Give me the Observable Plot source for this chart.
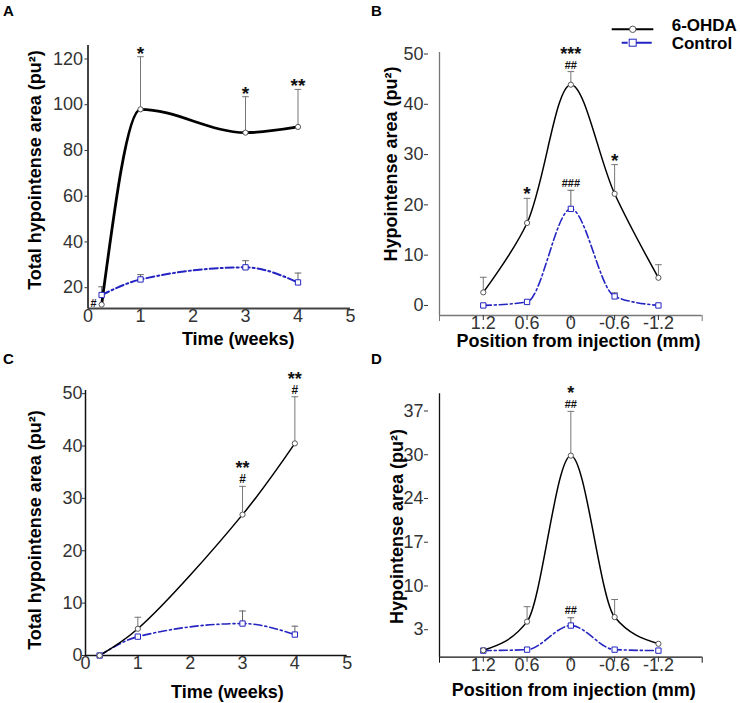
<!DOCTYPE html>
<html>
<head>
<meta charset="utf-8">
<script src="https://cdn.jsdelivr.net/npm/d3@7"></script>
<script src="https://cdn.jsdelivr.net/npm/@observablehq/plot@0.6"></script>
<style>
  body { margin: 0; background: #fff; font-family: "Liberation Sans", Arial, Helvetica, sans-serif; }
  #fig { position: relative; width: 740px; height: 703px; overflow: hidden; background: #fff; }
  .panel { position: absolute; }
  .panel svg { overflow: visible; max-width: none; }
  .letter { position: absolute; font-weight: bold; font-size: 15px; line-height: 1; color: #000; }
</style>
</head>
<body>
<div id="fig"></div>
<script>
// ---------------- DATA ----------------
// Panel A: total hypointense area over time
const weeksA = [0.26, 1, 3, 4];
const ohdaA = [12.6, 98, 87.8, 90.3];
const ohdaSemA = [0, 23, 15.7, 16.4];
const ctrlA = [16.8, 23.6, 28.9, 22.3];
const ctrlSemA = [3.6, 2.1, 2.9, 4.1];
const starsA = ["", "*", "*", "**"];
const hashA = ["#", "", "", ""];
const yTicksA = [20, 40, 60, 80, 100, 120];
const xTicksTime = [0, 1, 2, 3, 4, 5];

// Panel B: hypointense area by position
const posB = [1.2, 0.6, 0, -0.6, -1.2];
const posLabels = ["1.2", "0.6", "0", "-0.6", "-1.2"];
const ohdaB = [2.6, 16.4, 43.9, 22.2, 5.5];
const ohdaSemB = [3.0, 4.9, 2.6, 5.8, 2.6];
const ctrlB = [0, 0.7, 19.2, 1.8, 0];
const ctrlSemB = [0, 0, 3.7, 0.7, 0];
const starsB = ["", "*", "***", "*", ""];
const hashB = ["", "", "##", "", ""];
const ctrlHashB = ["", "", "###", "", ""];
const yTicksB = [0, 10, 20, 30, 40, 50];

// Panel C: total hypointense area over time
const weeksC = [0.27, 1, 3, 4];
const ohdaC = [0, 5.1, 26.9, 40.5];
const ohdaSemC = [0, 2.2, 5.4, 8.9];
const ctrlC = [0, 3.6, 6.1, 4.0];
const ctrlSemC = [0, 0, 2.4, 1.6];
const starsC = ["", "", "**", "**"];
const hashC = ["", "", "#", "#"];
const yTicksC = [0, 10, 20, 30, 40, 50];

// Panel D: hypointense area by position
const ohdaD = [0.2, 4.6, 30.1, 5.3, 1.2];
const ohdaSemD = [0, 2.3, 6.8, 2.7, 0];
const ctrlD = [0.15, 0.3, 4.0, 0.3, 0.15];
const ctrlSemD = [0, 0, 1.2, 0, 0];
const starsD = ["", "", "*", "", ""];
const hashD = ["", "", "##", "", ""];
const ctrlHashD = ["", "", "##", "", ""];
const yTicksD = [3.36, 10.08, 16.8, 23.52, 30.24, 36.96];
const yTickLabelsD = ["3", "10", "17", "24", "30", "37"];

const seriesNames = ["6-OHDA", "Control"];
const panelLetters = ["A", "B", "C", "D"];
const labelTotal = "Total hypointense area (pu²)";
const labelArea = "Hypointense area (pu²)";
const labelTime = "Time (weeks)";
const labelPos = "Position from injection (mm)";

// ---------------- STYLE ----------------
const FONT = '"Liberation Sans", Arial, Helvetica, sans-serif';
const BLUE = "#2424c2";
const DASH = "8,3,2,3";

const capSymbol = {
  draw(ctx, size) {
    const w = Math.sqrt(size);
    ctx.moveTo(-w, 0);
    ctx.lineTo(w, 0);
  }
};

function rows(xs, ys, sems, stars, hashes) {
  return xs.map((x, i) => ({
    x, y: ys[i], sem: sems[i], top: ys[i] + sems[i],
    star: stars ? stars[i] : "", hash: hashes ? hashes[i] : ""
  }));
}

function errorMarks(data, color, width) {
  const withErr = data.filter(d => d.sem > 0);
  return [
    Plot.ruleX(withErr, {x: "x", y1: "y", y2: "top", stroke: color, strokeWidth: width}),
    Plot.dot(withErr, {x: "x", y: "top", symbol: capSymbol, r: 1.9, stroke: color, strokeWidth: width, fill: "none"})
  ];
}

function makePanel(cfg) {
  const o = cfg.ohda, c = cfg.ctrl;
  const marks = [
    // axis lines
    Plot.ruleX([cfg.xDomain[0]], {stroke: cfg.axisColor, strokeWidth: cfg.axisWidth}),
    Plot.ruleY([cfg.yDomain[0]], {stroke: cfg.axisColor, strokeWidth: cfg.axisWidth}),
    // axes
    Plot.axisY({ticks: cfg.yTicks, tickFormat: cfg.yFormat, tickSize: cfg.yTickSize, tickPadding: cfg.yTickPadding,
      dx: cfg.yAxisDx || 0, fontSize: 18, color: "#333", label: null}),
    Plot.axisX({ticks: cfg.xTicks, tickFormat: cfg.xFormat, tickSize: cfg.xTickSize, tickPadding: cfg.xTickPadding,
      fontSize: 18, color: "#333", label: null}),
    ...(cfg.endTicks ? [Plot.axisX({ticks: cfg.xDomain, tickFormat: () => "", tickSize: 6, color: cfg.axisColor, label: null})] : []),
    // error bars
    ...errorMarks(o, "#777", 1),
    ...errorMarks(c, cfg.ctrlErrColor || "#666", 1),
    // lines
    Plot.line(c, {x: "x", y: "y", curve: cfg.ctrlCurve, stroke: BLUE, strokeWidth: cfg.ctrlWidth, strokeDasharray: DASH}),
    Plot.line(o, {x: "x", y: "y", curve: cfg.ohdaCurve, stroke: "#000", strokeWidth: cfg.ohdaWidth}),
    // markers
    Plot.dot(c, {x: "x", y: "y", symbol: "square", r: 3, stroke: BLUE, strokeWidth: 1, fill: "white"}),
    Plot.dot(o, {x: "x", y: "y", r: 2.6, stroke: "#555", strokeWidth: 1, fill: "white"}),
    // significance marks
    Plot.text(o.filter(d => d.star && !d.hash), {x: "x", y: "top", text: "star", lineAnchor: "bottom",
      dy: cfg.starDy, fontSize: 19, fontWeight: "bold", fill: "#111"}),
    Plot.text(o.filter(d => d.star && d.hash), {x: "x", y: "top", text: "star", lineAnchor: "bottom",
      dy: -12, fontSize: 18, fontWeight: "bold", fill: "#111"}),
    Plot.text(o.filter(d => d.hash && d.star), {x: "x", y: "top", text: "hash", lineAnchor: "bottom",
      dy: -3, fontSize: cfg.hashSize, fontWeight: "bold", fill: "#111"}),
    Plot.text(c.filter(d => d.hash), {x: "x", y: "top", text: "hash", lineAnchor: "bottom",
      dy: -3.5, fontSize: 11, fontWeight: "bold", fill: "#111"}),
    // axis titles
    Plot.text([cfg.yLabel], {text: d => d, frameAnchor: "left", rotate: -90, dx: cfg.yLabelDx, dy: cfg.yLabelDy,
      textAnchor: "middle", lineAnchor: "middle", fontSize: 18, fontWeight: "bold", fill: "#000"}),
    Plot.text([cfg.xLabel], {text: d => d, frameAnchor: "bottom", dx: cfg.xLabelDx, dy: cfg.xLabelDy,
      textAnchor: "middle", lineAnchor: "middle", fontSize: 18, fontWeight: "bold", fill: "#000"})
  ];
  if (cfg.sideHash) {
    marks.push(Plot.text(o.filter(d => d.hash && !d.star), {x: "x", y: "y", text: "hash", textAnchor: "end",
      lineAnchor: "middle", dx: -5, dy: -1, fontSize: 11, fontWeight: "bold", fill: "#111"}));
  }
  return Plot.plot({
    width: cfg.width, height: cfg.height,
    marginLeft: cfg.m[0], marginRight: cfg.m[1], marginTop: cfg.m[2], marginBottom: cfg.m[3],
    x: {type: "linear", domain: cfg.xDomain},
    y: {type: "linear", domain: cfg.yDomain},
    style: {fontFamily: FONT, fontSize: "18px", background: "transparent", overflow: "visible"},
    marks
  });
}

const fig = document.getElementById("fig");
function place(node, left, top) {
  const div = document.createElement("div");
  div.className = "panel";
  div.style.left = left + "px";
  div.style.top = top + "px";
  div.appendChild(node);
  fig.appendChild(div);
}

const timeFmt = d => String(d);
const posFmt = d => posLabels[posB.indexOf(d)] ?? "";

// Panel A
place(makePanel({
  width: 370, height: 350, m: [87.5, 20, 45, 42],
  xDomain: [0, 5], yDomain: [10.9, 125.9],
  xTicks: xTicksTime, xFormat: timeFmt, xTickSize: 0, xTickPadding: 1,
  yTicks: yTicksA, yFormat: d => String(d), yTickSize: 3, yTickPadding: 2,
  axisColor: "#444", axisWidth: 2,
  ohda: rows(weeksA, ohdaA, ohdaSemA, starsA, hashA),
  ctrl: rows(weeksA, ctrlA, ctrlSemA),
  ohdaCurve: "monotone-x", ctrlCurve: "monotone-x", ohdaWidth: 2.8, ctrlWidth: 2,
  starDy: 3, hashSize: 11, sideHash: true,
  yLabel: labelTotal, yLabelDx: -52.5, yLabelDy: -7,
  xLabel: labelTime, xLabelDx: 19, xLabelDy: 31
}), 0, 0);

// Panel B
place(makePanel({
  width: 370, height: 350, m: [69, 38.3, 52, 35],
  xDomain: [1.8, -1.8], yDomain: [-2, 50.3],
  xTicks: posB, xFormat: posFmt, xTickSize: 5, xTickPadding: -4, endTicks: true,
  yTicks: yTicksB, yFormat: d => String(d), yTickSize: 4, yTickPadding: 1, yAxisDx: -11,
  axisColor: "#777", axisWidth: 1.3,
  ohda: rows(posB, ohdaB, ohdaSemB, starsB, hashB),
  ctrl: rows(posB, ctrlB, ctrlSemB, null, ctrlHashB),
  ohdaCurve: "catmull-rom", ctrlCurve: "monotone-x", ohdaWidth: 1.5, ctrlWidth: 1.6,
  starDy: 2, hashSize: 11,
  yLabel: labelArea, yLabelDx: -48, yLabelDy: -20,
  xLabel: labelPos, xLabelDx: 7.7, xLabelDy: 25.7
}), 370, 0);

// Panel C
place(makePanel({
  width: 370, height: 353, m: [85, 23.3, 40, 48],
  xDomain: [0, 5], yDomain: [0, 50.6],
  xTicks: xTicksTime, xFormat: timeFmt, xTickSize: 0, xTickPadding: 1,
  yTicks: yTicksC, yFormat: d => String(d), yTickSize: 3, yTickPadding: 0,
  axisColor: "#111", axisWidth: 1.5,
  ohda: rows(weeksC, ohdaC, ohdaSemC, starsC, hashC),
  ctrl: rows(weeksC, ctrlC, ctrlSemC),
  ohdaCurve: "catmull-rom", ctrlCurve: "monotone-x", ohdaWidth: 1.5, ctrlWidth: 1.6,
  starDy: 2, hashSize: 12,
  yLabel: labelTotal, yLabelDx: -50, yLabelDy: 7,
  xLabel: labelTime, xLabelDx: 11, xLabelDy: 36.7
}), 0, 350);

// Panel D
place(makePanel({
  width: 370, height: 353, m: [69, 38.3, 43.3, 46.3],
  xDomain: [1.8, -1.8], yDomain: [-0.86, 39.6],
  xTicks: posB, xFormat: posFmt, xTickSize: 5, xTickPadding: -4, endTicks: true,
  yTicks: yTicksD, yFormat: d => yTickLabelsD[yTicksD.indexOf(d)], yTickSize: 4, yTickPadding: 1, yAxisDx: -11,
  axisColor: "#111", axisWidth: 1.3,
  ohda: rows(posB, ohdaD, ohdaSemD, starsD, hashD),
  ctrl: rows(posB, ctrlD, ctrlSemD, null, ctrlHashD),
  ohdaCurve: "monotone-x", ctrlCurve: "monotone-x", ohdaWidth: 1.5, ctrlWidth: 1.6,
  starDy: 2, hashSize: 11,
  yLabel: labelArea, yLabelDx: -42, yLabelDy: 1,
  xLabel: labelPos, xLabelDx: 3, xLabelDy: 33.3
}), 370, 350);

// Panel letters
[[3, 3], [371, 3], [3, 351], [371, 351]].forEach(([l, t], i) => {
  const d = document.createElement("div");
  d.className = "letter";
  d.style.left = l + "px";
  d.style.top = t + "px";
  d.textContent = panelLetters[i];
  fig.appendChild(d);
});

// Legend (top right)
const leg = d3.select(fig).append("svg")
  .attr("width", 140).attr("height", 60)
  .style("position", "absolute").style("left", "600px").style("top", "0px")
  .style("font-family", FONT);
const g1 = leg.append("g");
g1.append("line").attr("x1", 11.7).attr("x2", 53.3).attr("y1", 29.3).attr("y2", 29.3)
  .attr("stroke", "#000").attr("stroke-width", 2);
g1.append("circle").attr("cx", 32.7).attr("cy", 29.3).attr("r", 3.2)
  .attr("fill", "white").attr("stroke", "#555");
g1.append("text").attr("x", 71.7).attr("y", 25).attr("dy", "0.35em")
  .attr("font-size", 17).attr("font-weight", "bold").text(seriesNames[0]);
const g2 = leg.append("g");
g2.append("line").attr("x1", 21.7).attr("x2", 51.7).attr("y1", 42.7).attr("y2", 42.7)
  .attr("stroke", BLUE).attr("stroke-width", 2).attr("stroke-dasharray", "6,3,30");
g2.append("rect").attr("x", 29.2).attr("y", 39.2).attr("width", 7).attr("height", 7)
  .attr("fill", "white").attr("stroke", BLUE);
g2.append("text").attr("x", 71.7).attr("y", 43.5).attr("dy", "0.35em")
  .attr("font-size", 17).attr("font-weight", "bold").text(seriesNames[1]);
</script>
</body>
</html>
